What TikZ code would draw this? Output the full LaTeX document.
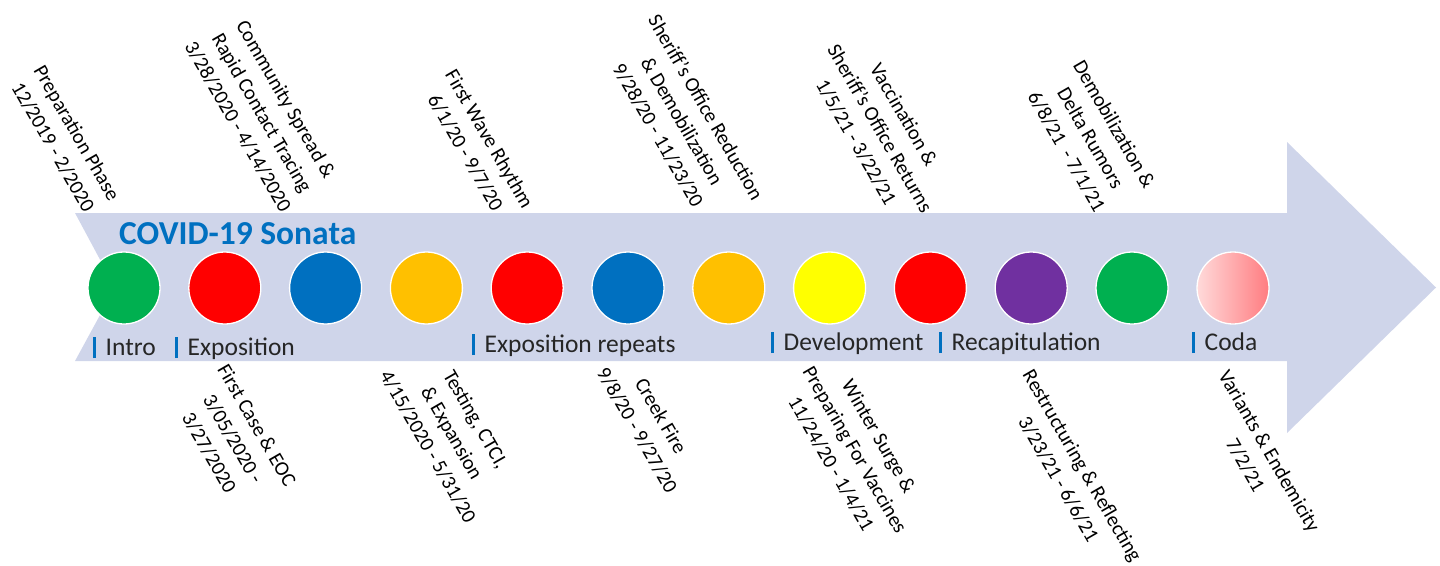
\documentclass[tikz,border=0pt]{standalone}
\usepackage{fontspec}
\setmainfont{Carlito}
\usetikzlibrary{positioning}

\definecolor{band}{RGB}{207,213,234}
\definecolor{movgreen}{HTML}{00B050}
\definecolor{movred}{HTML}{FF0000}
\definecolor{movblue}{HTML}{0070C0}
\definecolor{movgold}{HTML}{FFC000}
\definecolor{movyellow}{HTML}{FFFF00}
\definecolor{movpurple}{HTML}{7030A0}
\definecolor{codalight}{HTML}{FFDADA}
\definecolor{codadark}{HTML}{FF7C80}
\definecolor{darktext}{HTML}{262626}

\begin{document}
\begin{tikzpicture}[
  x=1pt,
  y=-1pt,
  phase/.style={circle,draw=white,line width=1.3pt,minimum size=72pt,inner sep=0pt},
  eventlabel/.style={rotate=-60,align=center,inner sep=0pt,
    font=\fontsize{20.5}{27.5}\selectfont},
  part/.style={anchor=base west,inner sep=0pt,text=darktext,
    font=\fontsize{25.5}{30}\selectfont},
  title/.style={anchor=base west,inner sep=0pt,text=movblue,
    font=\fontsize{33.5}{38}\selectfont\bfseries}
]
\useasboundingbox (0,0) rectangle (1440,565);

% Timeline band
\fill[band] (75,213) -- (1287,213) -- (1287,142) -- (1436,287.5)
  -- (1287,433) -- (1287,361) -- (75,361) -- (115,287.5) -- cycle;

\node[title] (title) at (119,244.3) {COVID-19 Sonata};

% Movements
\foreach \col [count=\i from 0] in
  {movgreen,movred,movblue,movgold,movred,movblue,movgold,movyellow,movred,movpurple,movgreen}
  \node[phase,fill=\col] (m\i) at (124+100.8*\i,288) {};
\node[phase,left color=codalight,right color=codadark] (m11) at (1233,288) {};

% Sonata parts
\newcommand{\partbar}{{\color{movblue}\rule[-3pt]{2.5pt}{21pt}}\hspace{10pt}}
\node[part] (intro) at (93,355) {\partbar Intro};
\node[part] (expo) at (175,355) {\partbar Exposition};
\node[part] (repeats) at (472,352) {\partbar Exposition repeats};
\node[part] (develop) at (771,350) {\partbar Development};
\node[part] (recap) at (939,350) {\partbar Recapitulation};
\node[part] (coda) at (1192,350) {\partbar Coda};

% Events above the band
\node[eventlabel] (prep) at (65,140) {Preparation Phase\\12/2019 - 2/2020};
\node[eventlabel] (spread) at (262,113)
  {Community Spread \&\\Rapid Contact Tracing\\3/28/2020 - 4/14/2020};
\node[eventlabel] (wave) at (477.5,146) {First Wave Rhythm\\6/1/20 - 9/7/20};
\node[eventlabel] (sheriff) at (682,121)
  {Sheriff's Office Reduction\\\& Demobilization\\9/28/20 - 11/23/20};
\node[eventlabel] (vacc) at (880,128.5)
  {Vaccination \&\\Sheriff's Office Returns\\1/5/21 - 3/22/21};
\node[eventlabel] (delta) at (1090.5,138)
  {Demobilization \&\\Delta Rumors\\6/8/21 \ - 7/1/21};

% Events below the band
\node[eventlabel] (firstcase) at (233,439)
  {First Case \& EOC\\3/05/2020 -\\3/27/2020};
\node[eventlabel] (testing) at (452,433)
  {Testing, CTCI,\\\& Expansion\\4/15/2020 - 5/31/20};
\node[eventlabel] (creek) at (649,423) {Creek Fire\\9/8/20 - 9/27/20};
\node[eventlabel] (winter) at (855,450)
  {Winter Surge \&\\Preparing For Vaccines\\11/24/20 - 1/4/21};
\node[eventlabel] (restruct) at (1070.5,472.5)
  {Restructuring \& Reflecting\\3/23/21 - 6/6/21};
\node[eventlabel] (variants) at (1257.5,458) {Variants \& Endemicity\\7/2/21};

\end{tikzpicture}
\end{document}
